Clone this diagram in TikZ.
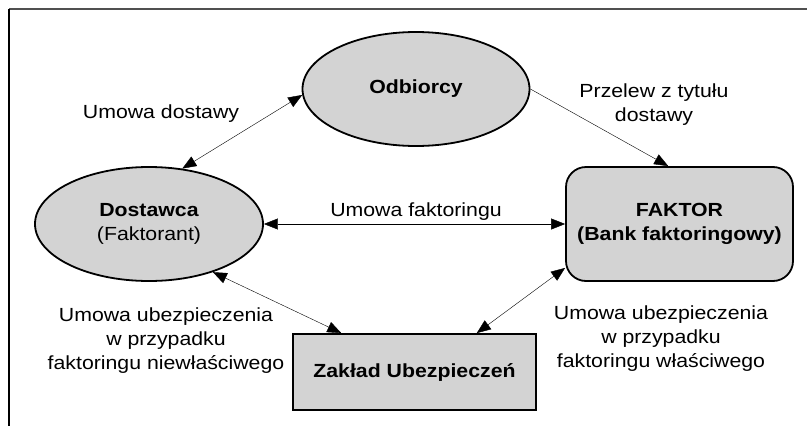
\documentclass[tikz,border=0pt]{standalone}
\usepackage{fontspec}
\setmainfont{Liberation Sans}[FakeStretch=1.12]
\usepackage{tikz}
\usetikzlibrary{arrows.meta, shapes.geometric}
\definecolor{nodegray}{RGB}{211,211,211}
\definecolor{framegray}{RGB}{80,80,80}
\tikzset{
    <->, % makes the edges double headed
    >={Triangle[length=14pt,width=11pt]}, % big filled heads
    line width=1.3pt, % thickness of the connectors
    party/.style={ellipse, draw, line width=1.8pt, fill=nodegray, inner sep=0pt, align=center}, % the two firms
    bank/.style={rectangle, rounded corners=20pt, draw, line width=1.8pt, fill=nodegray, inner sep=0pt, align=center},
    insurer/.style={rectangle, draw, line width=1.8pt, fill=nodegray, inner sep=0pt, align=center},
    deal/.style={align=center, font=\fontsize{19}{24}\selectfont}, % texts on the edges
}

\begin{document}
\begin{tikzpicture}[x=1pt, y=-1pt, font=\fontsize{19}{24}\selectfont]
            \useasboundingbox (0,0) rectangle (807,426);
            \draw[-, line width=2pt, framegray] (9,9) -- (807,9);
            \draw[-, line width=2pt] (9,9) -- (9,426);

            \node[party, minimum width=227pt, minimum height=114pt] (odbiorcy) at (416,89) {\textbf{Odbiorcy}};
            \node[party, minimum width=228pt, minimum height=114pt] (dostawca) at (149,224) {\textbf{Dostawca}\\(Faktorant)};
            \node[bank, minimum width=227pt, minimum height=114pt] (faktor) at (679.5,224) {\textbf{FAKTOR}\\\textbf{(Bank faktoringowy)}};
            \node[insurer, minimum width=243pt, minimum height=76pt] (zaklad) at (414.5,372) {\textbf{Zakład Ubezpieczeń}};

            \node[deal] (dostawy) at (161,114) {Umowa dostawy};
            \node[deal] (przelew) at (654,105) {Przelew z tytułu\\dostawy};
            \node[deal] (niewlasciwy) at (166,341) {Umowa ubezpieczenia\\w przypadku\\faktoringu niewłaściwego};
            \node[deal] (wlasciwy) at (661,339) {Umowa ubezpieczenia\\w przypadku\\faktoringu właściwego};

            \draw   (dostawca.59) -- (odbiorcy.183);
            \draw[->] (odbiorcy.east) -- (faktor.101);
            \draw   (dostawca.east) -- node[pos=0.505, above, deal]{Umowa faktoringu} (faktor.west);
            \draw   (dostawca.-37) -- (zaklad.152);
            \draw   (zaklad.32) -- (faktor.201);
        \end{tikzpicture}
\end{document}
